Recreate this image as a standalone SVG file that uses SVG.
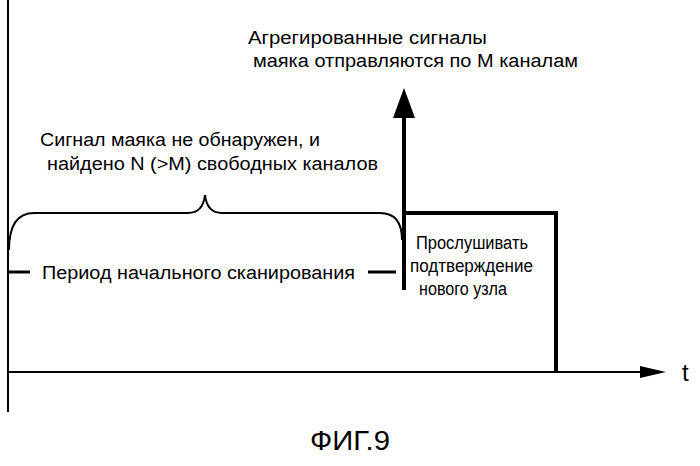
<svg xmlns="http://www.w3.org/2000/svg" width="700" height="466" viewBox="0 0 700 466">
<style>
text{font-family:"Liberation Sans",Arial,sans-serif;fill:#000;font-size:18px}
text.t{font-size:24px}
text.f{font-size:28px}
.l{stroke:#000;fill:none}
</style>
<rect width="700" height="466" fill="#fff"/>
<g id="axes">
<line class="l" x1="8" y1="0" x2="8" y2="412" stroke-width="2"/>
<line class="l" x1="8" y1="372" x2="642" y2="372" stroke-width="2"/>
<polygon points="640,366 666,372 640,378" fill="#000"/>
<text class="t" x="682" y="381">t</text>
</g>
<g id="connectors">
<line class="l" x1="404" y1="290" x2="404" y2="115" stroke-width="4"/>
<polygon points="393,118 404,88 415,118" fill="#000"/>
<polyline class="l" points="404,213 556,213 556,372" stroke-width="4"/>
<path class="l" stroke-width="2" d="M9,250 Q9,213 34,213 L188,213 Q203,213 205,195 Q207,213 222,213 L380,213 Q402,213 402,240"/>
<line class="l" x1="8" y1="272" x2="30" y2="272" stroke-width="3"/>
<line class="l" x1="368" y1="272" x2="396" y2="272" stroke-width="3"/>
</g>
<g id="labels">
<text x="248" y="44" textLength="239" lengthAdjust="spacingAndGlyphs">Агрегированные сигналы</text>
<text x="253" y="67" textLength="325" lengthAdjust="spacingAndGlyphs">маяка отправляются по М каналам</text>
<text x="40" y="146" textLength="280" lengthAdjust="spacingAndGlyphs">Сигнал маяка не обнаружен, и</text>
<text x="47" y="170" textLength="331" lengthAdjust="spacingAndGlyphs">найдено N (&gt;M) свободных каналов</text>
<text x="42" y="279" textLength="313" lengthAdjust="spacingAndGlyphs">Период начального сканирования</text>
<text x="416" y="249" textLength="112" lengthAdjust="spacingAndGlyphs">Прослушивать</text>
<text x="410" y="272" textLength="123" lengthAdjust="spacingAndGlyphs">подтверждение</text>
<text x="419" y="295" textLength="88" lengthAdjust="spacingAndGlyphs">нового узла</text>
<text class="f" x="310" y="450" textLength="80" lengthAdjust="spacingAndGlyphs">ФИГ.9</text>
</g>
</svg>
